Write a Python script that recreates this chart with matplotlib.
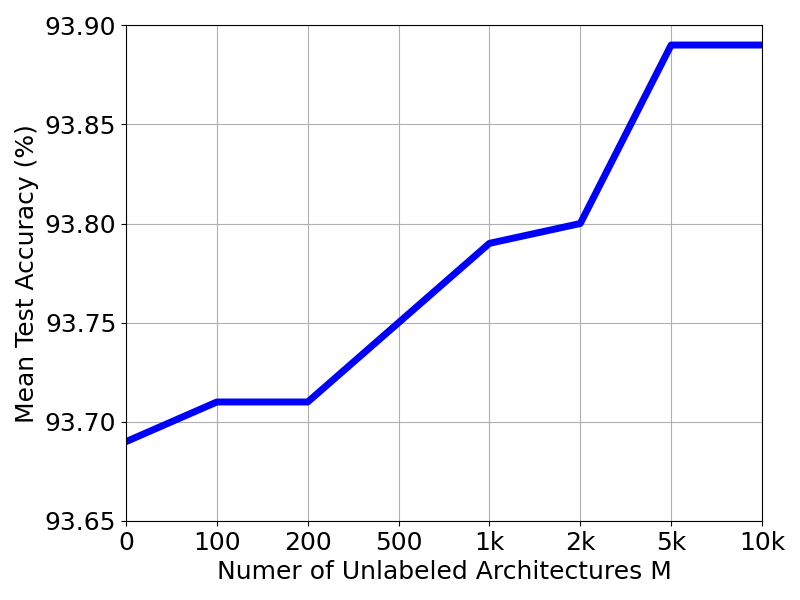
import matplotlib
matplotlib.use("Agg")
from matplotlib import pyplot as plt

labels = ["0", "100", "200", "500", "1k", "2k", "5k", "10k"]
accuracy = [93.69, 93.71, 93.71, 93.75, 93.79, 93.80, 93.89, 93.89]


def main():
    plt.rcParams['font.size'] = 18
    fig, ax = plt.subplots(figsize=(8, 6), dpi=100)
    fig.subplots_adjust(left=0.1575, right=0.9525, top=0.958, bottom=0.1317)
    x = list(range(len(labels)))
    ax.plot(x, accuracy, color='b', linewidth=5)
    ax.set_xticks(x, labels)
    ax.set_xlim(0, len(labels) - 1)
    ax.set_ylim(93.65, 93.90)
    ax.set_yticks([93.65, 93.70, 93.75, 93.80, 93.85, 93.90])
    ax.set_yticklabels(["93.65", "93.70", "93.75", "93.80", "93.85", "93.90"])
    ax.grid(True)
    ax.set_xlabel("Numer of Unlabeled Architectures M")
    ax.set_ylabel("Mean Test Accuracy (%)")
    fig.savefig("out.png")


if __name__ == "__main__":
    main()
